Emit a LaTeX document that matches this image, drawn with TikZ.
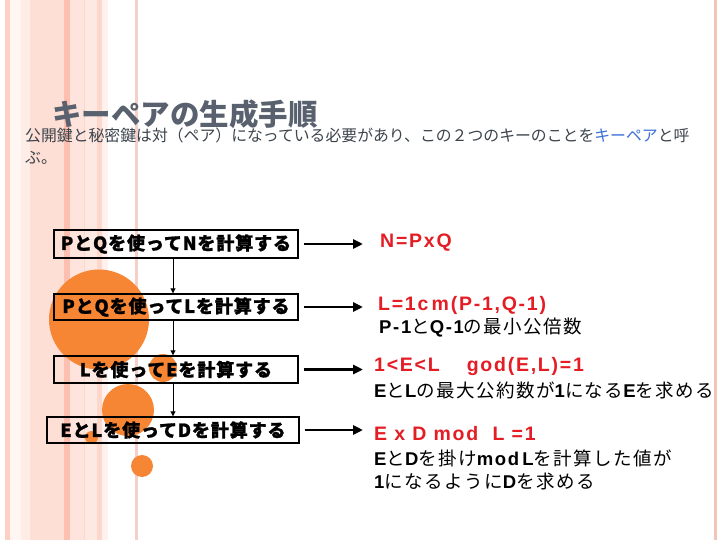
\documentclass[tikz,border=0pt]{standalone}
\usepackage{fontspec}
\usetikzlibrary{arrows.meta}
\newfontfamily\jpfont{Noto Sans CJK JP}
\newfontfamily\jpboxfont[LetterSpace=5, BoldFeatures={FakeBold=1.2}]{Noto Sans CJK JP}
\newfontfamily\jptxt[LetterSpace=8]{Noto Sans CJK JP}
\newfontfamily\latb[LetterSpace=9]{Liberation Sans}
\definecolor{keyred}{RGB}{228,28,36}
\definecolor{titlegray}{RGB}{88,97,109}
\definecolor{subgray}{RGB}{60,68,76}
\definecolor{keyblue}{RGB}{58,111,216}
\definecolor{dotorange}{RGB}{246,134,52}
\definecolor{stA}{RGB}{252,208,196}
\definecolor{stB}{RGB}{255,246,243}
\definecolor{stC}{RGB}{254,236,230}
\definecolor{stD}{RGB}{253,223,213}
\definecolor{stE}{RGB}{253,192,176}
\definecolor{stF}{RGB}{254,228,220}
\definecolor{stG}{RGB}{254,232,226}
\definecolor{stH}{RGB}{253,214,204}
\definecolor{stI}{RGB}{255,241,238}
\definecolor{stJ}{RGB}{246,208,198}
\definecolor{stK}{RGB}{244,196,184}
\newcommand\lt[1]{{\latb\bfseries #1}}
\tikzset{
  stepbox/.style={draw, line width=1.4pt, inner sep=0pt, font=\jpboxfont\bfseries\fontsize{18}{20}\selectfont},
  harrow/.style={line width=2.8pt, -{Triangle[length=10pt,width=9pt]}, shorten <=5pt},
  varrow/.style={line width=0.9pt, -{Triangle[length=5pt,width=5pt]}},
  rtext/.style={anchor=west, inner sep=0pt, font=\jptxt\fontsize{18.5}{20}\selectfont},
  redtext/.style={anchor=west, inner sep=0pt, text=keyred, font=\latb\bfseries\fontsize{19.5}{22}\selectfont},
  dot/.style={fill=dotorange}
}
\begin{document}
\begin{tikzpicture}[x=1pt,y=-1pt]
\useasboundingbox (0,0) rectangle (720,540);
\fill[white] (0,0) rectangle (720,540);
% background stripes
\fill[stA] (5,0) rectangle (10,540);
\fill[stB] (10,0) rectangle (21,540);
\fill[stC] (21,0) rectangle (30,540);
\fill[stD] (30,0) rectangle (64,540);
\fill[stE] (64,0) rectangle (70,540);
\fill[stF] (70,0) rectangle (84,540);
\fill[stG] (84,0) rectangle (97,540);
\draw[stH, line width=0.5pt] (84.3,0) -- (84.3,540);
\fill[stH] (97,0) rectangle (102,540);
\fill[stI] (102,0) rectangle (108,540);
\fill[stJ] (135,0) rectangle (137.5,540);
\fill[stK] (714,0) rectangle (717,540);
% circles
\fill[dot] (99,319.5) circle (50);
\fill[dot] (163,368) circle (14);
\fill[dot] (128,410) circle (26);
\fill[dot] (91.5,437.5) circle (6.5);
\fill[dot] (142,466) circle (11);
% title
\node[anchor=west, inner sep=0pt, text=titlegray, font=\jpfont\bfseries\fontsize{29.5}{32}\selectfont] (title) at (52,114) {キーペアの生成手順};
\node[anchor=west, inner sep=0pt, text=subgray, font=\jpfont\fontsize{15.85}{18}\selectfont] (sub1) at (25,135) {公開鍵と秘密鍵は対（ペア）になっている必要があり、この２つのキーのことを\textcolor{keyblue}{キーペア}と呼};
\node[anchor=west, inner sep=0pt, text=subgray, font=\jpfont\fontsize{15.85}{18}\selectfont] (sub2) at (25,158) {ぶ。};
% boxes
\node[stepbox, minimum width=244pt, minimum height=28pt] (b1) at (176,244) {PとQを使ってNを計算する};
\node[stepbox, minimum width=244pt, minimum height=26pt] (b2) at (176,307) {PとQを使ってLを計算する};
\node[stepbox, minimum width=244pt, minimum height=27pt] (b3) at (176,369.5) {Lを使ってEを計算する};
\node[stepbox, minimum width=252pt, minimum height=26pt] (b4) at (173,430) {EとLを使ってDを計算する};
% vertical arrows
\draw[varrow] (b1.south -| b4) -- (b2.north -| b4);
\draw[varrow] (b2.south -| b4) -- (b3.north -| b4);
\draw[varrow] (b3.south -| b4) -- (b4.north);
% right texts
\node[redtext] (r1) at (380,243) {N=PxQ};
\node[redtext] (r2) at (378,305) {L=1c\,m(P-1,Q-1)};
\node[rtext] (r2b) at (379,328) {\lt{P-1}と\lt{Q-1}の最小公倍数};
\node[redtext] (r3) at (374,366) {1<E<L\hspace{27pt}god(E,L)=1};
\node[rtext] (r3b) at (374,390) {\lt{E}と\lt{L}の最大公約数が\lt{1}になる\lt{E}を求める};
\node[redtext] (r4) at (374,434) {E x D mod\ \ L\ =1};
\node[rtext] (r4b) at (374,458) {\lt{E}と\lt{D}を掛け\lt{mod\,L}を計算した値が};
\node[rtext] (r4c) at (374,482) {\lt{1}になるように\lt{D}を求める};
% horizontal arrows
\coordinate (ax) at (363,0);
\draw[harrow] (b1.east) -- (b1.east -| ax);
\draw[harrow] (b2.east) -- (b2.east -| ax);
\draw[harrow] (b3.east) -- (b3.east -| ax);
\draw[harrow] (b4.east) -- (b4.east -| ax);
\end{tikzpicture}
\end{document}
